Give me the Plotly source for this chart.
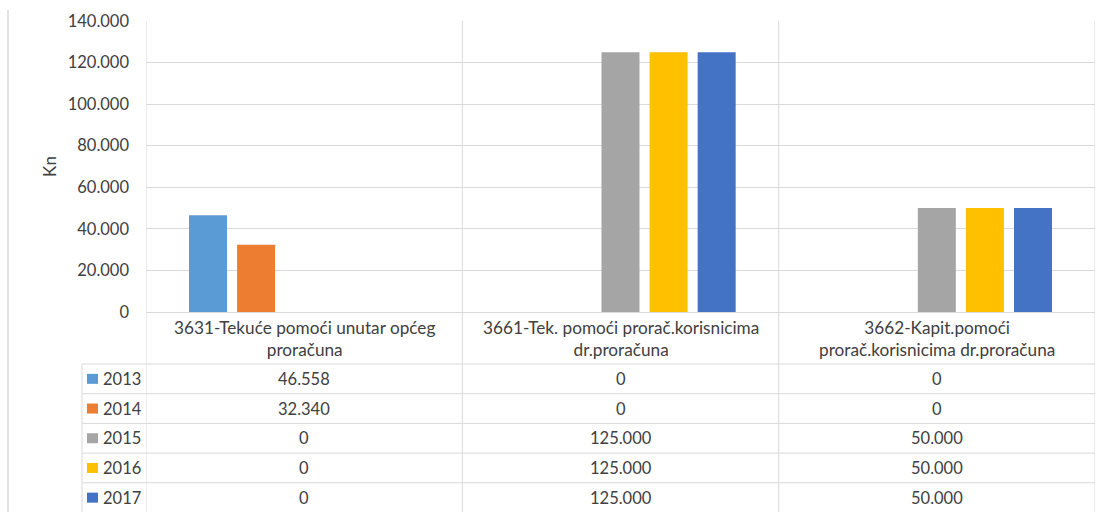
import plotly.graph_objects as go

categories = [
    "3631-Tekuće pomoći unutar općeg<br>proračuna",
    "3661-Tek. pomoći prorač.korisnicima<br>dr.proračuna",
    "3662-Kapit.pomoći<br>prorač.korisnicima dr.proračuna",
]
years = ["2013", "2014", "2015", "2016", "2017"]
v2013 = [46558, 0, 0]
v2014 = [32340, 0, 0]
v2015 = [0, 125000, 50000]
v2016 = [0, 125000, 50000]
v2017 = [0, 125000, 50000]
series = [v2013, v2014, v2015, v2016, v2017]
colors = ["#5B9BD5", "#ED7D31", "#A5A5A5", "#FFC000", "#4472C4"]
y_ticks = [0, 20000, 40000, 60000, 80000, 100000, 120000, 140000]

W, H = 1106, 512
L, R, T, B = 146, 11, 21, 200
PW, PH = W - L - R, H - T - B
FONT = "Lato"
TXT = "#404040"
GRID = "#D9D9D9"
NUM_SIZE = 16.5
CAT_SIZE = 17.2

def px(x):
    return (x - L) / PW

def py(y):
    return (H - B - y) / PH

def fmt(v):
    return f"{v:,}".replace(",", ".")

xs = list(range(len(categories)))
fig = go.Figure()
for name, vals, c in zip(years, series, colors):
    fig.add_trace(go.Bar(x=xs, y=vals, name=name, marker=dict(color=c, line=dict(width=0)),
                         showlegend=False))

shapes = []
annotations = []
zero_y = H - B
header_h = 52
row_h = 29.7
legend_x = 82
bottom = H

for b in [-0.5, 0.5, 1.5, 2.5]:
    shapes.append(dict(type="line", xref="x", yref="paper", x0=b, x1=b,
                       y0=1, y1=py(bottom), line=dict(color=GRID, width=1)))
row_tops = [zero_y + header_h + i * row_h for i in range(len(years) + 1)]
for yy in row_tops:
    shapes.append(dict(type="line", xref="paper", yref="paper", x0=px(legend_x), x1=1,
                       y0=py(yy), y1=py(yy), line=dict(color=GRID, width=1)))
shapes.append(dict(type="line", xref="paper", yref="paper", x0=px(legend_x), x1=px(legend_x),
                   y0=py(row_tops[0]), y1=py(bottom), line=dict(color=GRID, width=1)))
shapes.append(dict(type="line", xref="paper", yref="paper", x0=px(8), x1=px(8),
                   y0=py(10), y1=py(bottom), line=dict(color=GRID, width=1.5)))

for i, cat in enumerate(categories):
    annotations.append(dict(x=i, y=py(zero_y + header_h / 2), xref="x", yref="paper",
                            text=cat, showarrow=False,
                            font=dict(family=FONT, size=CAT_SIZE, color=TXT),
                            align="center", xanchor="center", yanchor="middle"))
for r, (name, vals, c) in enumerate(zip(years, series, colors)):
    cy = row_tops[r] + row_h / 2
    shapes.append(dict(type="rect", xref="paper", yref="paper", x0=px(87), x1=px(98),
                       y0=py(cy - 5), y1=py(cy + 5), fillcolor=c, line=dict(width=0)))
    annotations.append(dict(x=px(101), y=py(cy), xref="paper", yref="paper", text=name,
                            showarrow=False, xanchor="left", yanchor="middle",
                            font=dict(family=FONT, size=NUM_SIZE, color=TXT)))
    for i, v in enumerate(vals):
        annotations.append(dict(x=i, y=py(cy), xref="x", yref="paper", text=fmt(v),
                                showarrow=False, xanchor="center", yanchor="middle",
                                font=dict(family=FONT, size=NUM_SIZE, color=TXT)))

fig.update_layout(
    width=W, height=H, margin=dict(l=L, r=R, t=T, b=B),
    paper_bgcolor="white", plot_bgcolor="white",
    barmode="group", bargap=0.24, bargroupgap=0.21,
    separators=",.",
    font=dict(family=FONT, size=NUM_SIZE, color=TXT),
    xaxis=dict(range=[-0.5, 2.5], showticklabels=False, showgrid=False, zeroline=False,
               tickvals=xs, ticks=""),
    yaxis=dict(range=[0, 140000], tickvals=y_ticks, tickformat=",", showgrid=True,
               gridcolor=GRID, gridwidth=1, zeroline=True, zerolinecolor=GRID,
               zerolinewidth=1, ticks="", ticklabelstandoff=16,
               tickfont=dict(family=FONT, size=NUM_SIZE, color=TXT),
               title=dict(text="Kn", font=dict(family=FONT, size=17, color=TXT), standoff=6)),
    shapes=shapes, annotations=annotations,
)
fig.write_html("out.html", config={"displayModeBar": False},
               post_script="document.body.style.margin='0';document.body.style.overflow='hidden';")
